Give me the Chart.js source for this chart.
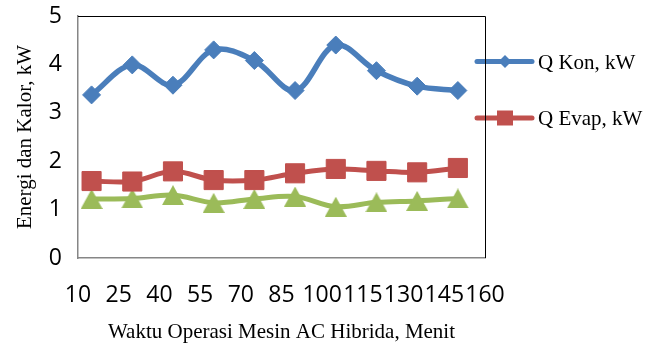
<!DOCTYPE html>
<html>
<head>
<meta charset="utf-8">
<script src="https://cdn.jsdelivr.net/npm/chart.js@4/dist/chart.umd.min.js"></script>
<style>
  html, body { margin: 0; padding: 0; background: #fff; }
  #wrap { width: 662px; height: 349px; position: relative; }
</style>
</head>
<body>
<div id="wrap"><canvas id="c"></canvas></div>
<script>
// Operating time (minutes) at which each reading was taken
const minutes = [15, 30, 45, 60, 75, 90, 105, 120, 135, 150];
// Condenser heat, kW
const qKon = [3.37, 3.99, 3.57, 4.30, 4.08, 3.46, 4.40, 3.87, 3.55, 3.46];
// Evaporator heat, kW
const qEvap = [1.59, 1.58, 1.79, 1.61, 1.61, 1.75, 1.84, 1.80, 1.77, 1.86];
// Third series (green triangles), kW
const qThird = [1.22, 1.23, 1.30, 1.14, 1.22, 1.27, 1.06, 1.15, 1.18, 1.23];

// Axis tick values
const xTicks = [10, 25, 40, 55, 70, 85, 100, 115, 130, 145, 160];
const yTicks = [0, 1, 2, 3, 4, 5];

// Texts
const seriesNames = ['Q Kon, kW', 'Q Evap, kW', ''];
const xTitle = 'Waktu Operasi Mesin AC Hibrida, Menit';
const yTitle = 'Energi dan Kalor, kW';

const BLUE = '#4a7ebb', RED = '#c0504d', GREEN = '#9bbb59';
const SERIF = '"Liberation Serif", "Times New Roman", serif';
const TICK_FONT = { family: '"Open Sans", sans-serif', size: 23 };

// Triangle marker centred on its bounding box
function triangleMarker(w, h, color) {
  const cv = document.createElement('canvas');
  cv.width = w; cv.height = h;
  const g = cv.getContext('2d');
  g.fillStyle = color;
  g.beginPath();
  g.moveTo(w / 2, 0);
  g.lineTo(w, h);
  g.lineTo(0, h);
  g.closePath();
  g.fill();
  return cv;
}

const pts = vals => minutes.map((m, i) => ({ x: m, y: vals[i] }));

// Titles, legend and plot frame
const decorations = {
  id: 'decorations',
  afterDraw(chart) {
    const { ctx, chartArea: a } = chart;
    ctx.save();
    ctx.fillStyle = '#000';
    ctx.font = '21px ' + SERIF;
    ctx.textBaseline = 'alphabetic';

    // x-axis title
    ctx.textAlign = 'center';
    ctx.fillText(xTitle, (a.left + a.right) / 2, 338);

    // y-axis title
    ctx.save();
    ctx.translate(31, (a.top + a.bottom) / 2);
    ctx.rotate(-Math.PI / 2);
    ctx.fillText(yTitle, 0, 0);
    ctx.restore();

    // legend
    const rows = [
      { y: 61.5, color: BLUE, marker: 'diamond' },
      { y: 118, color: RED, marker: 'square' }
    ];
    rows.forEach((r, i) => {
      ctx.strokeStyle = r.color;
      ctx.fillStyle = r.color;
      ctx.lineWidth = 5;
      ctx.lineCap = 'round';
      ctx.beginPath();
      ctx.moveTo(477, r.y);
      ctx.lineTo(532, r.y);
      ctx.stroke();
      ctx.beginPath();
      if (r.marker === 'diamond') {
        const s = 6.5;
        ctx.moveTo(505, r.y - s);
        ctx.lineTo(505 + s, r.y);
        ctx.lineTo(505, r.y + s);
        ctx.lineTo(505 - s, r.y);
        ctx.closePath();
      } else {
        ctx.rect(505 - 8, r.y - 7.5, 16, 15);
      }
      ctx.fill();
      ctx.fillStyle = '#000';
      ctx.textAlign = 'left';
      ctx.fillText(seriesNames[i], 538, r.y + 7);
    });

    // plot-area frame (top and right edges)
    ctx.strokeStyle = '#000';
    ctx.lineWidth = 1;
    ctx.lineCap = 'butt';
    ctx.beginPath();
    ctx.moveTo(a.left, a.top + 0.5);
    ctx.lineTo(a.right + 0.5, a.top + 0.5);
    ctx.lineTo(a.right + 0.5, a.bottom);
    ctx.stroke();
    ctx.restore();
  }
};

new Chart(document.getElementById('c'), {
  type: 'line',
  data: {
    datasets: [
      {
        label: seriesNames[0], data: pts(qKon),
        borderColor: BLUE, backgroundColor: BLUE, borderWidth: 5.5,
        pointStyle: 'rectRot', pointRadius: 9, pointBorderWidth: 1,
        pointBackgroundColor: BLUE, pointBorderColor: BLUE, tension: 0.35
      },
      {
        label: seriesNames[1], data: pts(qEvap),
        borderColor: RED, backgroundColor: RED, borderWidth: 5,
        pointStyle: 'rect', pointRadius: 13.5, pointBorderWidth: 1,
        pointBackgroundColor: RED, pointBorderColor: RED, tension: 0.35
      },
      {
        label: seriesNames[2], data: pts(qThird),
        borderColor: GREEN, backgroundColor: GREEN, borderWidth: 5,
        pointStyle: triangleMarker(22, 20, GREEN), pointRadius: 10,
        tension: 0.35
      }
    ]
  },
  options: {
    responsive: true,
    maintainAspectRatio: false,
    animation: false,
    layout: { padding: { left: 0, right: 177, top: 16, bottom: 0 } },
    plugins: { legend: { display: false }, tooltip: { enabled: false } },
    elements: { point: { hoverRadius: 9 } },
    scales: {
      x: {
        type: 'linear', min: 10, max: 160,
        afterBuildTicks: s => { s.ticks = xTicks.map(v => ({ value: v })); },
        afterFit: s => { s.height = 91; s.paddingLeft = 0; s.paddingRight = 0; },
        grid: { display: false, drawTicks: false },
        border: { display: true, color: '#868686', width: 1.5 },
        ticks: {
          autoSkip: false, maxRotation: 0, minRotation: 0, padding: 24,
          color: '#000', font: TICK_FONT
        }
      },
      y: {
        type: 'linear', min: 0, max: 5,
        afterBuildTicks: s => { s.ticks = yTicks.map(v => ({ value: v })); },
        afterFit: s => { s.width = 78; s.paddingTop = 0; s.paddingBottom = 0; },
        grid: { display: false, drawTicks: false },
        border: { display: true, color: '#868686', width: 1.5 },
        ticks: { padding: 16, color: '#000', font: TICK_FONT }
      }
    }
  },
  plugins: [decorations]
});
</script>
</body>
</html>
